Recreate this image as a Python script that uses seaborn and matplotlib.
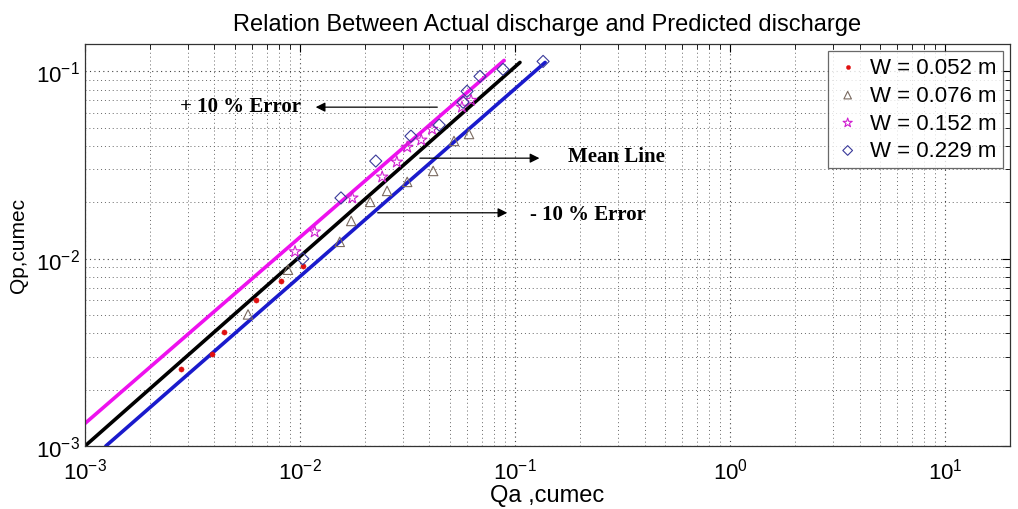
import numpy as np
import pandas as pd
import seaborn as sns
import matplotlib
matplotlib.use("Agg")
import matplotlib.pyplot as plt

# Actual (Qa) and predicted (Qp) discharge, cumec
qa_052 = [2.80e-3, 3.90e-3, 4.44e-3, 6.24e-3, 8.17e-3, 1.03e-2]
qp_052 = [2.57e-3, 3.08e-3, 4.04e-3, 6.05e-3, 7.64e-3, 9.18e-3]

qa_076 = [5.73e-3, 8.79e-3, 1.53e-2, 1.73e-2, 2.12e-2, 2.54e-2, 3.15e-2, 4.16e-2, 5.20e-2, 6.11e-2]
qp_076 = [5.04e-3, 8.73e-3, 1.23e-2, 1.59e-2, 2.01e-2, 2.30e-2, 2.57e-2, 2.94e-2, 4.25e-2, 4.63e-2]

qa_152 = [9.48e-3, 1.17e-2, 1.75e-2, 2.41e-2, 2.82e-2, 3.15e-2, 3.66e-2, 4.11e-2, 5.66e-2, 6.24e-2]
qp_152 = [1.09e-2, 1.39e-2, 2.11e-2, 2.73e-2, 3.28e-2, 3.94e-2, 4.30e-2, 4.91e-2, 6.44e-2, 7.01e-2]

qa_229 = [1.03e-2, 1.55e-2, 2.25e-2, 3.28e-2, 4.44e-2, 5.73e-2, 5.98e-2, 6.87e-2, 8.79e-2, 0.135]
qp_229 = [1.00e-2, 2.11e-2, 3.32e-2, 4.51e-2, 5.17e-2, 6.84e-2, 7.83e-2, 9.40e-2, 0.1025, 0.113]

# reference lines (end points)
plus_x = [1.0e-3, 0.0889]
plus_y = [1.32e-3, 0.1144]
mean_x = [1.0e-3, 0.1054]
mean_y = [1.0e-3, 0.1116]
minus_x = [1.25e-3, 0.138]
minus_y = [1.0e-3, 0.1116]

sns.set_style("white")
plt.rcParams["font.family"] = ["Liberation Sans", "DejaVu Sans"]
plt.rcParams["mathtext.fontset"] = "custom"
plt.rcParams["mathtext.rm"] = "Liberation Sans"
plt.rcParams["text.color"] = "black"
plt.rcParams["axes.labelcolor"] = "black"

fig = plt.figure(figsize=(10.18, 5.10), dpi=100)
ax = fig.add_axes([0.0835, 0.1235, 0.9085, 0.7883])

sns.lineplot(x=plus_x, y=plus_y, color="#ee11ee", lw=2.6, ax=ax)
sns.lineplot(x=mean_x, y=mean_y, color="black", lw=2.6, ax=ax)
sns.lineplot(x=minus_x, y=minus_y, color="#1a1acc", lw=2.6, ax=ax)

sns.scatterplot(x=qa_052, y=qp_052, marker="o", s=14, color="#e01010", edgecolor="#e01010",
                label="W = 0.052 m", ax=ax, zorder=3)
sns.scatterplot(x=qa_076, y=qp_076, marker="^", s=46, facecolors="none", edgecolors="#7a6a60",
                linewidth=0.8, label="W = 0.076 m", ax=ax, zorder=3)
sns.scatterplot(x=qa_152, y=qp_152, marker="*", s=75, facecolors="none", edgecolors="#d020d0",
                linewidth=0.8, label="W = 0.152 m", ax=ax, zorder=3)
sns.scatterplot(x=qa_229, y=qp_229, marker="D", s=38, facecolors="none", edgecolors="#3a3a9a",
                linewidth=0.8, label="W = 0.229 m", ax=ax, zorder=3)

ax.set_xscale("log")
ax.set_yscale("log")
ax.set_xlim(1e-3, 20)
ax.set_ylim(1e-3, 0.14)

ax.grid(True, which="major", linestyle=(0, (1, 3)), color="#444444", lw=0.8)
ax.grid(True, which="minor", linestyle=(0, (1, 3)), color="#666666", lw=0.7)
ax.tick_params(which="both", direction="in", top=True, right=True, labelsize=16, colors="black")
ax.tick_params(which="major", length=6)
ax.tick_params(which="minor", length=3.5)
ax.tick_params(axis="x", which="major", pad=8)
for sp in ax.spines.values():
    sp.set_color("#333333")
    sp.set_linewidth(0.9)

ax.set_title("Relation Between Actual discharge and Predicted discharge", fontsize=17, pad=10)
ax.set_xlabel("Qa ,cumec", fontsize=17, labelpad=1)
ax.set_ylabel("Qp,cumec", fontsize=15, labelpad=6)

bold = dict(family=["Liberation Serif", "DejaVu Serif"], fontweight="bold", fontsize=15, va="center")
ax.annotate("", xy=(0.01148, 0.0644), xytext=(0.0448, 0.0644),
            arrowprops=dict(arrowstyle="-|>", color="black", lw=0.9, mutation_scale=14))
ax.text(2.77e-3, 0.0652, "+ 10 % Error", **bold)
ax.annotate("", xy=(0.1337, 0.0344), xytext=(0.035, 0.0344),
            arrowprops=dict(arrowstyle="-|>", color="black", lw=0.9, mutation_scale=14))
ax.text(0.1766, 0.0353, "Mean Line", **bold)
ax.annotate("", xy=(0.0948, 0.01758), xytext=(0.0223, 0.01758),
            arrowprops=dict(arrowstyle="-|>", color="black", lw=0.9, mutation_scale=14))
ax.text(0.1175, 0.01734, "- 10 % Error", **bold)

leg = ax.legend(loc="upper right", fontsize=16, frameon=True, fancybox=False,
                borderaxespad=0.3, handletextpad=0.4, labelspacing=0.3, markerscale=0.8,
                handlelength=1.2, borderpad=0.3)
leg.get_frame().set_edgecolor("#444444")
leg.get_frame().set_linewidth(0.9)

fig.savefig("out.png", dpi=100)
